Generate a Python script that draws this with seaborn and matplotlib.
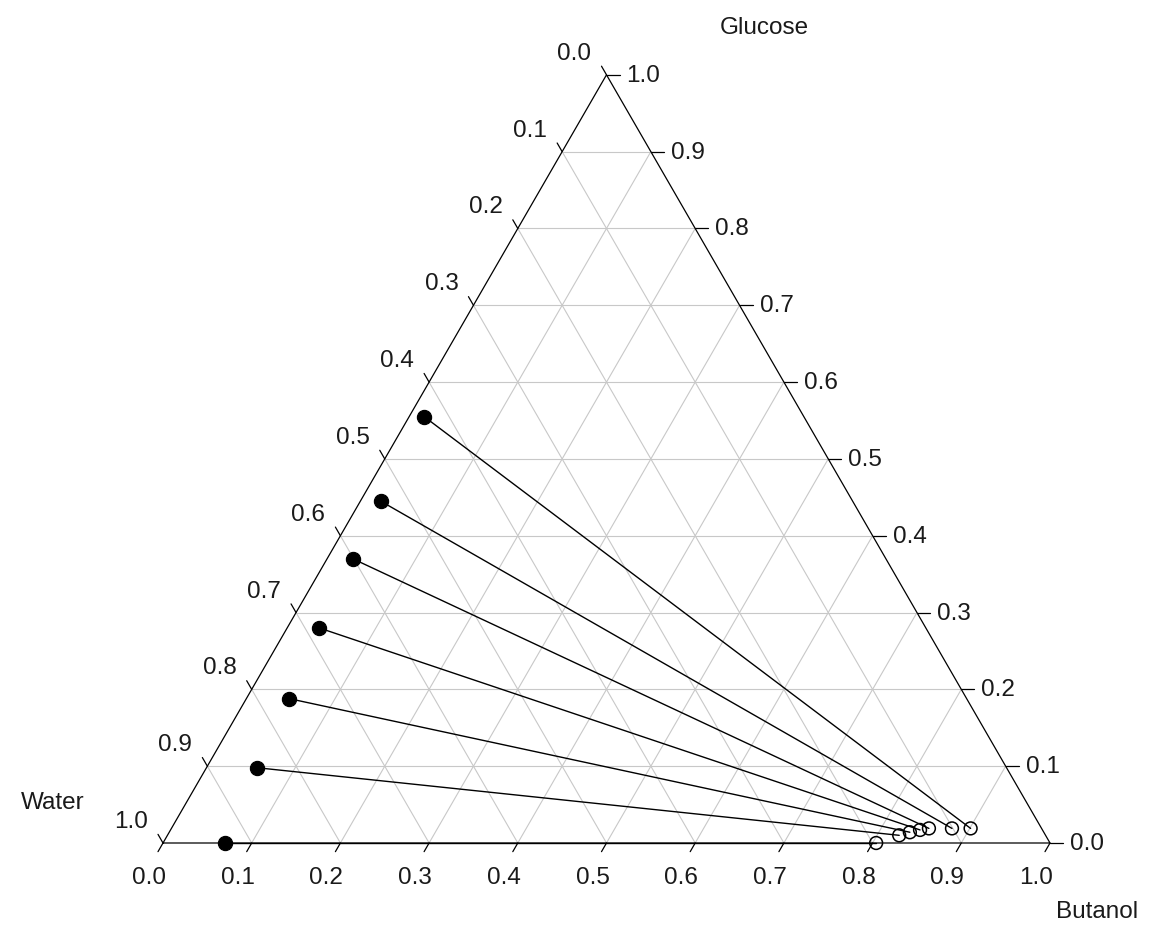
import numpy as np
import pandas as pd
import matplotlib
matplotlib.use("Agg")
import matplotlib.pyplot as plt
import seaborn as sns

# Tie-line end points (mass fractions)
# raffinate phase (filled) and extract phase (open), same order
raff_butanol = [0.017, 0.023, 0.029, 0.036, 0.048, 0.057, 0.070]
raff_glucose = [0.555, 0.445, 0.370, 0.280, 0.188, 0.098, 0.000]
extr_butanol = [0.901, 0.880, 0.854, 0.845, 0.835, 0.825, 0.804]
extr_glucose = [0.019, 0.019, 0.019, 0.017, 0.014, 0.010, 0.000]

tick_values = [round(0.1 * i, 1) for i in range(11)]
tick_labels = [f"{v:.1f}" for v in tick_values]

H = np.sqrt(3) / 2


def tern(butanol, glucose):
    b = np.asarray(butanol, dtype=float)
    g = np.asarray(glucose, dtype=float)
    return b + g / 2, g * H


sns.set_style("white")
plt.rcParams["font.family"] = ["Liberation Sans", "DejaVu Sans"]
plt.rcParams["text.color"] = "#1a1a1a"
FS = 17.5

fig = plt.figure(figsize=(11.54, 9.29), dpi=100)
ax = fig.add_axes([0, 0, 1, 1])
PX = 887.0  # pixels per unit side

grid_kw = dict(color="#c8c8c8", lw=0.8, zorder=1)
for v in tick_values[1:-1]:
    # constant glucose (horizontal)
    x, y = tern([0, 1 - v], [v, v])
    ax.plot(x, y, **grid_kw)
    # constant butanol (parallel to left edge)
    x, y = tern([v, v], [0, 1 - v])
    ax.plot(x, y, **grid_kw)
    # constant water (parallel to right edge)
    x, y = tern([1 - v, 0], [0, 1 - v])
    ax.plot(x, y, **grid_kw)

# triangle frame
x, y = tern([0, 1, 0, 0], [0, 0, 1, 0])
ax.plot(x, y, color="black", lw=0.9, zorder=2)

tl = 10 / PX
for v, lab in zip(tick_values, tick_labels):
    # bottom axis: butanol
    x0, y0 = tern(v, 0)
    ax.plot([x0, x0 - 0.5 * tl], [y0, y0 - H * tl], color="black", lw=0.9)
    ax.text(x0 - 14 / PX, y0 - 34 / PX, lab, ha="center", va="center", fontsize=FS)
    # right axis: glucose
    x0, y0 = tern(1 - v, v)
    ax.plot([x0, x0 + 13 / PX], [y0, y0], color="black", lw=0.9)
    ax.text(x0 + 20 / PX, y0, lab, ha="left", va="center", fontsize=FS)
    # left axis: water
    x0, y0 = tern(0, 1 - v)
    ax.plot([x0, x0 - 0.5 * tl], [y0, y0 + H * tl], color="black", lw=0.9)
    ax.text(x0 - 32 / PX, y0 + 22 / PX, lab, ha="center", va="center", fontsize=FS)

# tie lines
rx, ry = tern(raff_butanol, raff_glucose)
ex, ey = tern(extr_butanol, extr_glucose)
n = len(rx)
ties = pd.DataFrame({
    "pair": list(range(n)) * 2,
    "x": np.concatenate([rx, ex]),
    "y": np.concatenate([ry, ey]),
})
sns.lineplot(data=ties, x="x", y="y", units="pair", estimator=None, sort=False,
             color="black", lw=1.0, ax=ax, zorder=3)

raff = pd.DataFrame({"x": rx, "y": ry})
extr = pd.DataFrame({"x": ex, "y": ey})
sns.scatterplot(data=raff, x="x", y="y", s=105, color="black", edgecolor="black",
                ax=ax, zorder=4)
sns.scatterplot(data=extr, x="x", y="y", s=85, facecolor="none", edgecolor="black",
                linewidth=1.1, ax=ax, zorder=4)
ax.set_xlim(-163 / PX, (1154 - 163) / PX)
ax.set_ylim(-(929 - 844) / PX, 844 / PX)
ax.axis("off")

ax.text((764 - 163) / PX, (844 - 28) / PX, "Glucose", ha="center", va="center", fontsize=FS)
ax.text((53 - 163) / PX, (844 - 803) / PX, "Water", ha="center", va="center", fontsize=FS)
ax.text((1097 - 163) / PX, (844 - 912) / PX, "Butanol", ha="center", va="center", fontsize=FS)

fig.savefig("out.png", dpi=100)
